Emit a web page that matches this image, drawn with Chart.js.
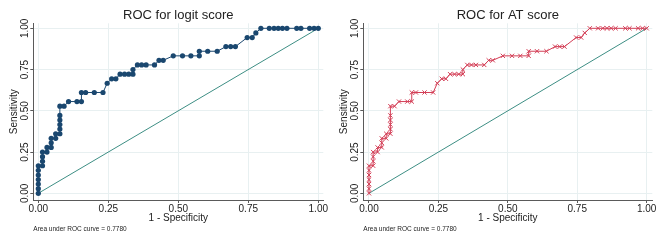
<!DOCTYPE html>
<html lang="en">
<head>
  <meta charset="UTF-8" />
  <title>ROC curves</title>
  <script src="https://cdn.jsdelivr.net/npm/chart.js"></script>
  <style>
    body { margin: 0; background: #fff; }
    .wrap { position: relative; width: 661px; height: 241px; }
    canvas { position: absolute; top: 0; }
    #logitChart { left: 0; }
    #atChart { left: 330px; }
  </style>
</head>
<body>
  <div class="wrap">
    <canvas id="logitChart" width="330" height="241"></canvas>
    <canvas id="atChart" width="331" height="241"></canvas>
  </div>

  <script>
    // 1 - specificity / sensitivity pairs
    const logitFpr = [0, 0, 0, 0, 0, 0, 0, 0.015, 0.015, 0.015, 0.015, 0.031, 0.031,
      0.046, 0.046, 0.046, 0.062, 0.062, 0.077, 0.077, 0.077, 0.077, 0.077, 0.077,
      0.092, 0.108, 0.138, 0.154, 0.154, 0.169, 0.2, 0.231, 0.246, 0.262, 0.277,
      0.292, 0.308, 0.323, 0.338, 0.338, 0.354, 0.369, 0.385, 0.415, 0.431, 0.446,
      0.482, 0.515, 0.545, 0.575, 0.575, 0.605, 0.639, 0.670, 0.687, 0.704, 0.746,
      0.764, 0.777, 0.795, 0.825, 0.842, 0.857, 0.872, 0.888, 0.923, 0.938, 0.969,
      0.985, 1];
    const logitTpr = [0, 0.028, 0.056, 0.083, 0.111, 0.139, 0.167, 0.167, 0.194, 0.222,
      0.25, 0.25, 0.278, 0.278, 0.306, 0.333, 0.333, 0.361, 0.361, 0.389, 0.417,
      0.444, 0.472, 0.528, 0.528, 0.556, 0.556, 0.556, 0.611, 0.611, 0.611, 0.611,
      0.667, 0.694, 0.694, 0.722, 0.722, 0.722, 0.722, 0.75, 0.778, 0.778, 0.778,
      0.778, 0.806, 0.806, 0.833, 0.833, 0.833, 0.833, 0.861, 0.861, 0.861, 0.889,
      0.889, 0.889, 0.944, 0.944, 0.972, 1, 1, 1, 1, 1, 1, 1, 1, 1, 1, 1];
    // the AT score curve reads the same as the logit one
    const atFpr = logitFpr.slice();
    const atTpr = logitTpr.slice();

    const refLine = [0, 1];
    const tickValues = [0, 0.25, 0.5, 0.75, 1];
    const aucText = 'Area under ROC curve = 0.7780';

    const FONT = "'Liberation Sans', Arial, sans-serif";
    const GRID = '#e8f0f1';
    const AXIS = '#5a5a5a';
    const TEXT = '#222';

    function rocChart(id, title, fpr, tpr, look, xMin, xMax, padRight) {
      const pts = fpr.map((x, i) => ({ x: x, y: tpr[i] }));
      const fixTicks = s => { s.ticks = tickValues.map(v => ({ value: v })); };
      return new Chart(document.getElementById(id), {
        type: 'scatter',
        data: {
          datasets: [
            {
              data: pts,
              showLine: true,
              borderColor: look.color,
              borderWidth: 1,
              backgroundColor: look.color,
              pointBackgroundColor: look.color,
              pointBorderColor: look.color,
              pointStyle: look.marker,
              pointRadius: look.radius,
              pointBorderWidth: look.pw
            },
            {
              data: refLine.map(v => ({ x: v, y: v })),
              showLine: true,
              borderColor: '#3d8e84',
              borderWidth: 1,
              pointRadius: 0
            }
          ]
        },
        options: {
          responsive: false,
          animation: false,
          layout: { padding: { left: 0, right: padRight, top: 0, bottom: 0 } },
          plugins: {
            legend: { display: false },
            tooltip: { enabled: false },
            title: {
              display: true, text: title, fullSize: false, color: TEXT,
              font: { family: FONT, size: 13, weight: 'normal' },
              padding: { top: 7.7, bottom: 0 }
            },
            subtitle: {
              display: true, text: aucText, position: 'bottom', align: 'start',
              fullSize: false, color: TEXT,
              font: { family: FONT, size: 6.5 },
              padding: { top: 0, bottom: 8 }
            }
          },
          scales: {
            x: {
              type: 'linear', min: xMin, max: xMax,
              afterBuildTicks: fixTicks,
              afterFit: s => { s.height = 25.2; s.paddingLeft = 0; s.paddingRight = 0; },
              ticks: {
                color: TEXT, padding: 0.5, maxRotation: 0,
                font: { family: FONT, size: 10 },
                callback: v => v.toFixed(2)
              },
              grid: { color: GRID, tickColor: AXIS, tickLength: 3 },
              border: { display: true, color: AXIS, width: 1 },
              title: {
                display: true, text: '1 - Specificity', color: TEXT,
                font: { family: FONT, size: 10 }, padding: { top: 0, bottom: 0.9 }
              }
            },
            y: {
              type: 'linear', min: -0.0406, max: 1.0303,
              afterBuildTicks: fixTicks,
              afterFit: s => { s.width = 33.3; s.paddingTop = 0; s.paddingBottom = 0; },
              ticks: {
                color: TEXT, padding: -4.25, minRotation: 90, maxRotation: 90,
                crossAlign: 'center',
                font: { family: FONT, size: 10 },
                callback: v => v.toFixed(2)
              },
              grid: { color: GRID, tickColor: AXIS, tickLength: 3 },
              border: { display: true, color: AXIS, width: 1 },
              title: {
                display: true, text: 'Sensitivity', color: TEXT,
                font: { family: FONT, size: 10 }, padding: { top: 8.3, bottom: 0 }
              }
            }
          }
        }
      });
    }

    rocChart('logitChart', 'ROC for logit score', logitFpr, logitTpr,
      { color: '#1a476f', marker: 'circle', radius: 2.6, pw: 0 },
      -0.0179, 1.0179, 6.7);

    rocChart('atChart', 'ROC for AT score', atFpr, atTpr,
      { color: '#d33d55', marker: 'crossRot', radius: 3, pw: 1 },
      -0.0205, 1.0202, 8.7);
  </script>
</body>
</html>
